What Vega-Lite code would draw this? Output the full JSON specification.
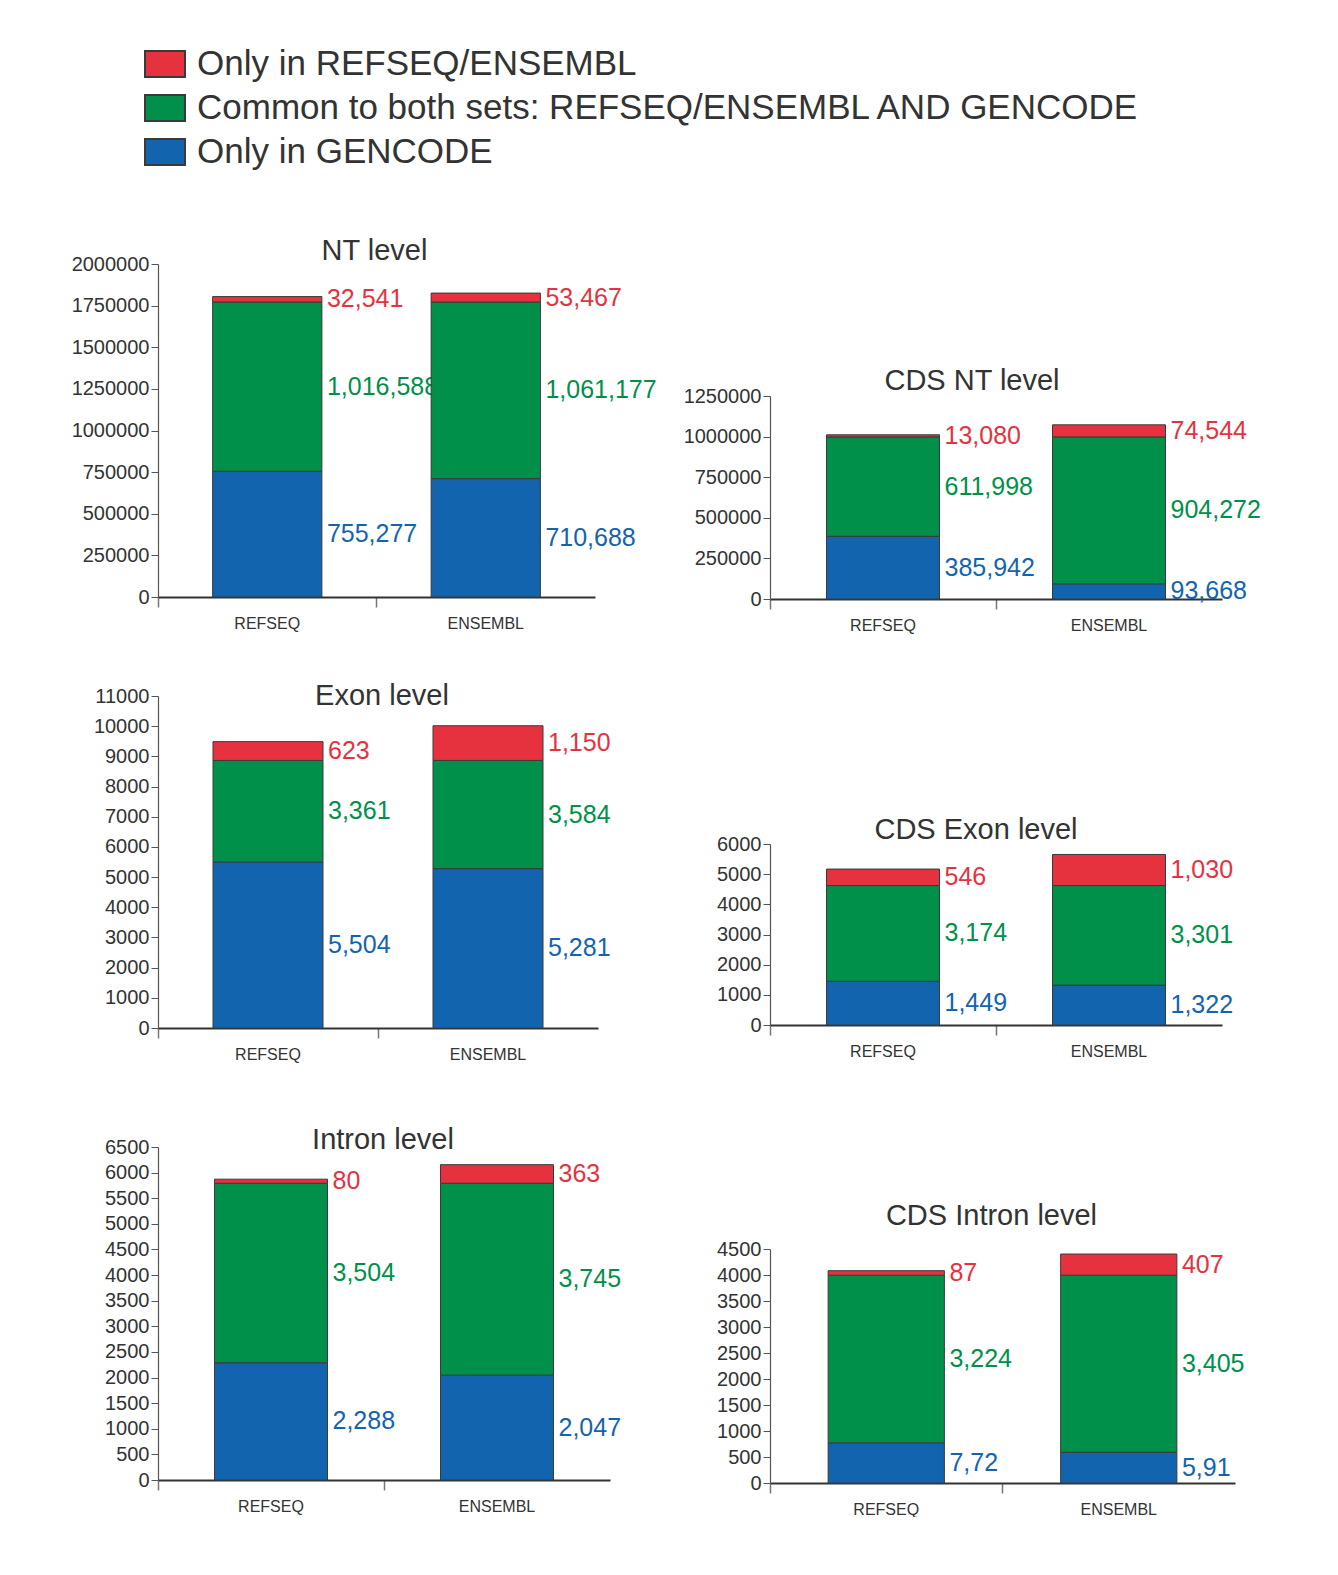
{
  "$schema": "https://vega.github.io/schema/vega-lite/v6.json",
  "background": "white",
  "padding": {"left": 71, "top": 0, "right": 0, "bottom": 0},
  "datasets": {
    "d": [
      {"panel": "NT", "src": "REFSEQ", "cat": "Only in GENCODE", "k": 1, "v": 755277, "label": "755,277"},
      {"panel": "NT", "src": "REFSEQ", "cat": "Common to both sets: REFSEQ/ENSEMBL AND GENCODE", "k": 2, "v": 1016588, "label": "1,016,588"},
      {"panel": "NT", "src": "REFSEQ", "cat": "Only in REFSEQ/ENSEMBL", "k": 3, "v": 32541, "label": "32,541"},
      {"panel": "NT", "src": "ENSEMBL", "cat": "Only in GENCODE", "k": 1, "v": 710688, "label": "710,688"},
      {"panel": "NT", "src": "ENSEMBL", "cat": "Common to both sets: REFSEQ/ENSEMBL AND GENCODE", "k": 2, "v": 1061177, "label": "1,061,177"},
      {"panel": "NT", "src": "ENSEMBL", "cat": "Only in REFSEQ/ENSEMBL", "k": 3, "v": 53467, "label": "53,467"},
      {"panel": "CDSNT", "src": "REFSEQ", "cat": "Only in GENCODE", "k": 1, "v": 385942, "label": "385,942"},
      {"panel": "CDSNT", "src": "REFSEQ", "cat": "Common to both sets: REFSEQ/ENSEMBL AND GENCODE", "k": 2, "v": 611998, "label": "611,998"},
      {"panel": "CDSNT", "src": "REFSEQ", "cat": "Only in REFSEQ/ENSEMBL", "k": 3, "v": 13080, "label": "13,080"},
      {"panel": "CDSNT", "src": "ENSEMBL", "cat": "Only in GENCODE", "k": 1, "v": 93668, "label": "93,668"},
      {"panel": "CDSNT", "src": "ENSEMBL", "cat": "Common to both sets: REFSEQ/ENSEMBL AND GENCODE", "k": 2, "v": 904272, "label": "904,272"},
      {"panel": "CDSNT", "src": "ENSEMBL", "cat": "Only in REFSEQ/ENSEMBL", "k": 3, "v": 74544, "label": "74,544"},
      {"panel": "Exon", "src": "REFSEQ", "cat": "Only in GENCODE", "k": 1, "v": 5504, "label": "5,504"},
      {"panel": "Exon", "src": "REFSEQ", "cat": "Common to both sets: REFSEQ/ENSEMBL AND GENCODE", "k": 2, "v": 3361, "label": "3,361"},
      {"panel": "Exon", "src": "REFSEQ", "cat": "Only in REFSEQ/ENSEMBL", "k": 3, "v": 623, "label": "623"},
      {"panel": "Exon", "src": "ENSEMBL", "cat": "Only in GENCODE", "k": 1, "v": 5281, "label": "5,281"},
      {"panel": "Exon", "src": "ENSEMBL", "cat": "Common to both sets: REFSEQ/ENSEMBL AND GENCODE", "k": 2, "v": 3584, "label": "3,584"},
      {"panel": "Exon", "src": "ENSEMBL", "cat": "Only in REFSEQ/ENSEMBL", "k": 3, "v": 1150, "label": "1,150"},
      {"panel": "CDSExon", "src": "REFSEQ", "cat": "Only in GENCODE", "k": 1, "v": 1449, "label": "1,449"},
      {"panel": "CDSExon", "src": "REFSEQ", "cat": "Common to both sets: REFSEQ/ENSEMBL AND GENCODE", "k": 2, "v": 3174, "label": "3,174"},
      {"panel": "CDSExon", "src": "REFSEQ", "cat": "Only in REFSEQ/ENSEMBL", "k": 3, "v": 546, "label": "546"},
      {"panel": "CDSExon", "src": "ENSEMBL", "cat": "Only in GENCODE", "k": 1, "v": 1322, "label": "1,322"},
      {"panel": "CDSExon", "src": "ENSEMBL", "cat": "Common to both sets: REFSEQ/ENSEMBL AND GENCODE", "k": 2, "v": 3301, "label": "3,301"},
      {"panel": "CDSExon", "src": "ENSEMBL", "cat": "Only in REFSEQ/ENSEMBL", "k": 3, "v": 1030, "label": "1,030"},
      {"panel": "Intron", "src": "REFSEQ", "cat": "Only in GENCODE", "k": 1, "v": 2288, "label": "2,288"},
      {"panel": "Intron", "src": "REFSEQ", "cat": "Common to both sets: REFSEQ/ENSEMBL AND GENCODE", "k": 2, "v": 3504, "label": "3,504"},
      {"panel": "Intron", "src": "REFSEQ", "cat": "Only in REFSEQ/ENSEMBL", "k": 3, "v": 80, "label": "80"},
      {"panel": "Intron", "src": "ENSEMBL", "cat": "Only in GENCODE", "k": 1, "v": 2047, "label": "2,047"},
      {"panel": "Intron", "src": "ENSEMBL", "cat": "Common to both sets: REFSEQ/ENSEMBL AND GENCODE", "k": 2, "v": 3745, "label": "3,745"},
      {"panel": "Intron", "src": "ENSEMBL", "cat": "Only in REFSEQ/ENSEMBL", "k": 3, "v": 363, "label": "363"},
      {"panel": "CDSIntron", "src": "REFSEQ", "cat": "Only in GENCODE", "k": 1, "v": 772, "label": "7,72"},
      {"panel": "CDSIntron", "src": "REFSEQ", "cat": "Common to both sets: REFSEQ/ENSEMBL AND GENCODE", "k": 2, "v": 3224, "label": "3,224"},
      {"panel": "CDSIntron", "src": "REFSEQ", "cat": "Only in REFSEQ/ENSEMBL", "k": 3, "v": 87, "label": "87"},
      {"panel": "CDSIntron", "src": "ENSEMBL", "cat": "Only in GENCODE", "k": 1, "v": 591, "label": "5,91"},
      {"panel": "CDSIntron", "src": "ENSEMBL", "cat": "Common to both sets: REFSEQ/ENSEMBL AND GENCODE", "k": 2, "v": 3405, "label": "3,405"},
      {"panel": "CDSIntron", "src": "ENSEMBL", "cat": "Only in REFSEQ/ENSEMBL", "k": 3, "v": 407, "label": "407"}
    ]
  },
  "spacing": 26,
  "hconcat": [
    {
      "spacing": 0,
      "vconcat": [
        {"width": 10, "height": 237, "data": {"values": []}, "mark": {"type": "point", "opacity": 0}},
        {
          "width": 437, "height": 333,
          "title": {"text": "NT level", "offset": -12, "dx": -2},
          "data": {"name": "d"},
          "transform": [{"filter": "datum.panel === 'NT'"}],
          "layer": [
            {"mark": {"type": "text", "align": "left", "baseline": "middle", "dx": 5, "fontSize": 25},
             "encoding": {
               "x": {"field": "src", "type": "nominal", "sort": ["REFSEQ", "ENSEMBL"], "bandPosition": 0.75, "scale": {"paddingInner": 0, "paddingOuter": 0}, "axis": {"title": null}},
               "y": {"field": "v", "type": "quantitative", "stack": "zero", "bandPosition": 0.5, "scale": {"domain": [0, 2000000]}, "axis": {"title": null, "format": "d", "values": [0, 250000, 500000, 750000, 1000000, 1250000, 1500000, 1750000, 2000000]}},
               "order": {"field": "k", "type": "quantitative"},
               "color": {"field": "cat", "type": "nominal"},
               "text": {"field": "label", "type": "nominal"}
             }},
            {"mark": {"type": "bar", "width": {"band": 0.5}, "stroke": "#3a3a3a", "strokeWidth": 1},
             "encoding": {
               "x": {"field": "src", "type": "nominal", "sort": ["REFSEQ", "ENSEMBL"], "scale": {"paddingInner": 0, "paddingOuter": 0}, "axis": {"title": null}},
               "y": {"field": "v", "type": "quantitative", "stack": "zero", "scale": {"domain": [0, 2000000]}, "axis": {"title": null, "format": "d", "values": [0, 250000, 500000, 750000, 1000000, 1250000, 1500000, 1750000, 2000000]}},
               "order": {"field": "k", "type": "quantitative"},
               "color": {"field": "cat", "type": "nominal", "scale": {"domain": ["Only in REFSEQ/ENSEMBL", "Common to both sets: REFSEQ/ENSEMBL AND GENCODE", "Only in GENCODE"], "range": ["#E6323F", "#00904A", "#1364AF"]}, "legend": {"orient": "none", "legendX": -14, "legendY": 43, "title": null, "symbolType": "M-1,-0.65H1V0.65H-1Z", "symbolSize": 1600, "symbolStrokeColor": "#3a3a3a", "symbolStrokeWidth": 2, "labelFontSize": 35, "labelColor": "#333333", "labelLimit": 1200, "rowPadding": 5, "labelOffset": 11, "padding": 0}}
             }}
          ]
        },
        {"width": 10, "height": 51, "data": {"values": []}, "mark": {"type": "point", "opacity": 0}},
        {
          "width": 440, "height": 332,
          "title": {"text": "Exon level", "offset": -25, "dx": 4},
          "data": {"name": "d"},
          "transform": [{"filter": "datum.panel === 'Exon'"}],
          "layer": [
            {"mark": {"type": "text", "align": "left", "baseline": "middle", "dx": 5, "fontSize": 25},
             "encoding": {
               "x": {"field": "src", "type": "nominal", "sort": ["REFSEQ", "ENSEMBL"], "bandPosition": 0.75, "scale": {"paddingInner": 0, "paddingOuter": 0}, "axis": {"title": null}},
               "y": {"field": "v", "type": "quantitative", "stack": "zero", "bandPosition": 0.5, "scale": {"domain": [0, 11000]}, "axis": {"title": null, "format": "d", "values": [0, 1000, 2000, 3000, 4000, 5000, 6000, 7000, 8000, 9000, 10000, 11000]}},
               "order": {"field": "k", "type": "quantitative"},
               "color": {"field": "cat", "type": "nominal"},
               "text": {"field": "label", "type": "nominal"}
             }},
            {"mark": {"type": "bar", "width": {"band": 0.5}, "stroke": "#3a3a3a", "strokeWidth": 1},
             "encoding": {
               "x": {"field": "src", "type": "nominal", "sort": ["REFSEQ", "ENSEMBL"], "scale": {"paddingInner": 0, "paddingOuter": 0}, "axis": {"title": null}},
               "y": {"field": "v", "type": "quantitative", "stack": "zero", "scale": {"domain": [0, 11000]}, "axis": {"title": null, "format": "d", "values": [0, 1000, 2000, 3000, 4000, 5000, 6000, 7000, 8000, 9000, 10000, 11000]}},
               "order": {"field": "k", "type": "quantitative"},
               "color": {"field": "cat", "type": "nominal"}
             }}
          ]
        },
        {"width": 10, "height": 64, "data": {"values": []}, "mark": {"type": "point", "opacity": 0}},
        {
          "width": 452, "height": 333,
          "title": {"text": "Intron level", "offset": -18, "dx": -1},
          "data": {"name": "d"},
          "transform": [{"filter": "datum.panel === 'Intron'"}],
          "layer": [
            {"mark": {"type": "text", "align": "left", "baseline": "middle", "dx": 5, "fontSize": 25},
             "encoding": {
               "x": {"field": "src", "type": "nominal", "sort": ["REFSEQ", "ENSEMBL"], "bandPosition": 0.75, "scale": {"paddingInner": 0, "paddingOuter": 0}, "axis": {"title": null}},
               "y": {"field": "v", "type": "quantitative", "stack": "zero", "bandPosition": 0.5, "scale": {"domain": [0, 6500]}, "axis": {"title": null, "format": "d", "values": [0, 500, 1000, 1500, 2000, 2500, 3000, 3500, 4000, 4500, 5000, 5500, 6000, 6500]}},
               "order": {"field": "k", "type": "quantitative"},
               "color": {"field": "cat", "type": "nominal"},
               "text": {"field": "label", "type": "nominal"}
             }},
            {"mark": {"type": "bar", "width": {"band": 0.5}, "stroke": "#3a3a3a", "strokeWidth": 1},
             "encoding": {
               "x": {"field": "src", "type": "nominal", "sort": ["REFSEQ", "ENSEMBL"], "scale": {"paddingInner": 0, "paddingOuter": 0}, "axis": {"title": null}},
               "y": {"field": "v", "type": "quantitative", "stack": "zero", "scale": {"domain": [0, 6500]}, "axis": {"title": null, "format": "d", "values": [0, 500, 1000, 1500, 2000, 2500, 3000, 3500, 4000, 4500, 5000, 5500, 6000, 6500]}},
               "order": {"field": "k", "type": "quantitative"},
               "color": {"field": "cat", "type": "nominal"}
             }}
          ]
        }
      ]
    },
    {
      "spacing": 0,
      "vconcat": [
        {"width": 10, "height": 367, "data": {"values": []}, "mark": {"type": "point", "opacity": 0}},
        {
          "width": 452, "height": 203,
          "title": {"text": "CDS NT level", "offset": -10, "dx": -24},
          "data": {"name": "d"},
          "transform": [{"filter": "datum.panel === 'CDSNT'"}],
          "layer": [
            {"mark": {"type": "text", "align": "left", "baseline": "middle", "dx": 5, "fontSize": 25},
             "encoding": {
               "x": {"field": "src", "type": "nominal", "sort": ["REFSEQ", "ENSEMBL"], "bandPosition": 0.75, "scale": {"paddingInner": 0, "paddingOuter": 0}, "axis": {"title": null}},
               "y": {"field": "v", "type": "quantitative", "stack": "zero", "bandPosition": 0.5, "scale": {"domain": [0, 1250000]}, "axis": {"title": null, "format": "d", "values": [0, 250000, 500000, 750000, 1000000, 1250000]}},
               "order": {"field": "k", "type": "quantitative"},
               "color": {"field": "cat", "type": "nominal"},
               "text": {"field": "label", "type": "nominal"}
             }},
            {"mark": {"type": "bar", "width": {"band": 0.5}, "stroke": "#3a3a3a", "strokeWidth": 1},
             "encoding": {
               "x": {"field": "src", "type": "nominal", "sort": ["REFSEQ", "ENSEMBL"], "scale": {"paddingInner": 0, "paddingOuter": 0}, "axis": {"title": null}},
               "y": {"field": "v", "type": "quantitative", "stack": "zero", "scale": {"domain": [0, 1250000]}, "axis": {"title": null, "format": "d", "values": [0, 250000, 500000, 750000, 1000000, 1250000]}},
               "order": {"field": "k", "type": "quantitative"},
               "color": {"field": "cat", "type": "nominal"}
             }}
          ]
        },
        {"width": 10, "height": 183, "data": {"values": []}, "mark": {"type": "point", "opacity": 0}},
        {
          "width": 452, "height": 181,
          "title": {"text": "CDS Exon level", "offset": -11, "dx": -20},
          "data": {"name": "d"},
          "transform": [{"filter": "datum.panel === 'CDSExon'"}],
          "layer": [
            {"mark": {"type": "text", "align": "left", "baseline": "middle", "dx": 5, "fontSize": 25},
             "encoding": {
               "x": {"field": "src", "type": "nominal", "sort": ["REFSEQ", "ENSEMBL"], "bandPosition": 0.75, "scale": {"paddingInner": 0, "paddingOuter": 0}, "axis": {"title": null}},
               "y": {"field": "v", "type": "quantitative", "stack": "zero", "bandPosition": 0.5, "scale": {"domain": [0, 6000]}, "axis": {"title": null, "format": "d", "values": [0, 1000, 2000, 3000, 4000, 5000, 6000]}},
               "order": {"field": "k", "type": "quantitative"},
               "color": {"field": "cat", "type": "nominal"},
               "text": {"field": "label", "type": "nominal"}
             }},
            {"mark": {"type": "bar", "width": {"band": 0.5}, "stroke": "#3a3a3a", "strokeWidth": 1},
             "encoding": {
               "x": {"field": "src", "type": "nominal", "sort": ["REFSEQ", "ENSEMBL"], "scale": {"paddingInner": 0, "paddingOuter": 0}, "axis": {"title": null}},
               "y": {"field": "v", "type": "quantitative", "stack": "zero", "scale": {"domain": [0, 6000]}, "axis": {"title": null, "format": "d", "values": [0, 1000, 2000, 3000, 4000, 5000, 6000]}},
               "order": {"field": "k", "type": "quantitative"},
               "color": {"field": "cat", "type": "nominal"}
             }}
          ]
        },
        {"width": 10, "height": 143, "data": {"values": []}, "mark": {"type": "point", "opacity": 0}},
        {
          "width": 465, "height": 234,
          "title": {"text": "CDS Intron level", "offset": 8, "dx": -11},
          "data": {"name": "d"},
          "transform": [{"filter": "datum.panel === 'CDSIntron'"}],
          "layer": [
            {"mark": {"type": "text", "align": "left", "baseline": "middle", "dx": 5, "fontSize": 25},
             "encoding": {
               "x": {"field": "src", "type": "nominal", "sort": ["REFSEQ", "ENSEMBL"], "bandPosition": 0.75, "scale": {"paddingInner": 0, "paddingOuter": 0}, "axis": {"title": null}},
               "y": {"field": "v", "type": "quantitative", "stack": "zero", "bandPosition": 0.5, "scale": {"domain": [0, 4500]}, "axis": {"title": null, "format": "d", "values": [0, 500, 1000, 1500, 2000, 2500, 3000, 3500, 4000, 4500]}},
               "order": {"field": "k", "type": "quantitative"},
               "color": {"field": "cat", "type": "nominal"},
               "text": {"field": "label", "type": "nominal"}
             }},
            {"mark": {"type": "bar", "width": {"band": 0.5}, "stroke": "#3a3a3a", "strokeWidth": 1},
             "encoding": {
               "x": {"field": "src", "type": "nominal", "sort": ["REFSEQ", "ENSEMBL"], "scale": {"paddingInner": 0, "paddingOuter": 0}, "axis": {"title": null}},
               "y": {"field": "v", "type": "quantitative", "stack": "zero", "scale": {"domain": [0, 4500]}, "axis": {"title": null, "format": "d", "values": [0, 500, 1000, 1500, 2000, 2500, 3000, 3500, 4000, 4500]}},
               "order": {"field": "k", "type": "quantitative"},
               "color": {"field": "cat", "type": "nominal"}
             }}
          ]
        }
      ]
    }
  ],
  "config": {
    "font": "Liberation Sans",
    "view": {"stroke": null},
    "axis": {"grid": false, "labelColor": "#333333", "domainColor": "#555555", "tickColor": "#555555"},
    "axisX": {"bandPosition": 0, "tickSize": 10, "labelPadding": 8, "labelFontSize": 16, "labelAngle": 0, "domainWidth": 2, "domainColor": "#333333", "tickWidth": 1.5, "tickColor": "#777777"},
    "axisY": {"tickSize": 7, "labelFontSize": 20, "labelPadding": 2, "domainWidth": 1.2},
    "title": {"fontSize": 29, "fontWeight": "normal", "color": "#333333", "anchor": "middle", "baseline": "alphabetic", "frame": "group"},
    "legend": {"labelFontSize": 35, "labelColor": "#333333", "labelLimit": 1200, "rowPadding": 5, "labelOffset": 11, "padding": 0}
  }
}
